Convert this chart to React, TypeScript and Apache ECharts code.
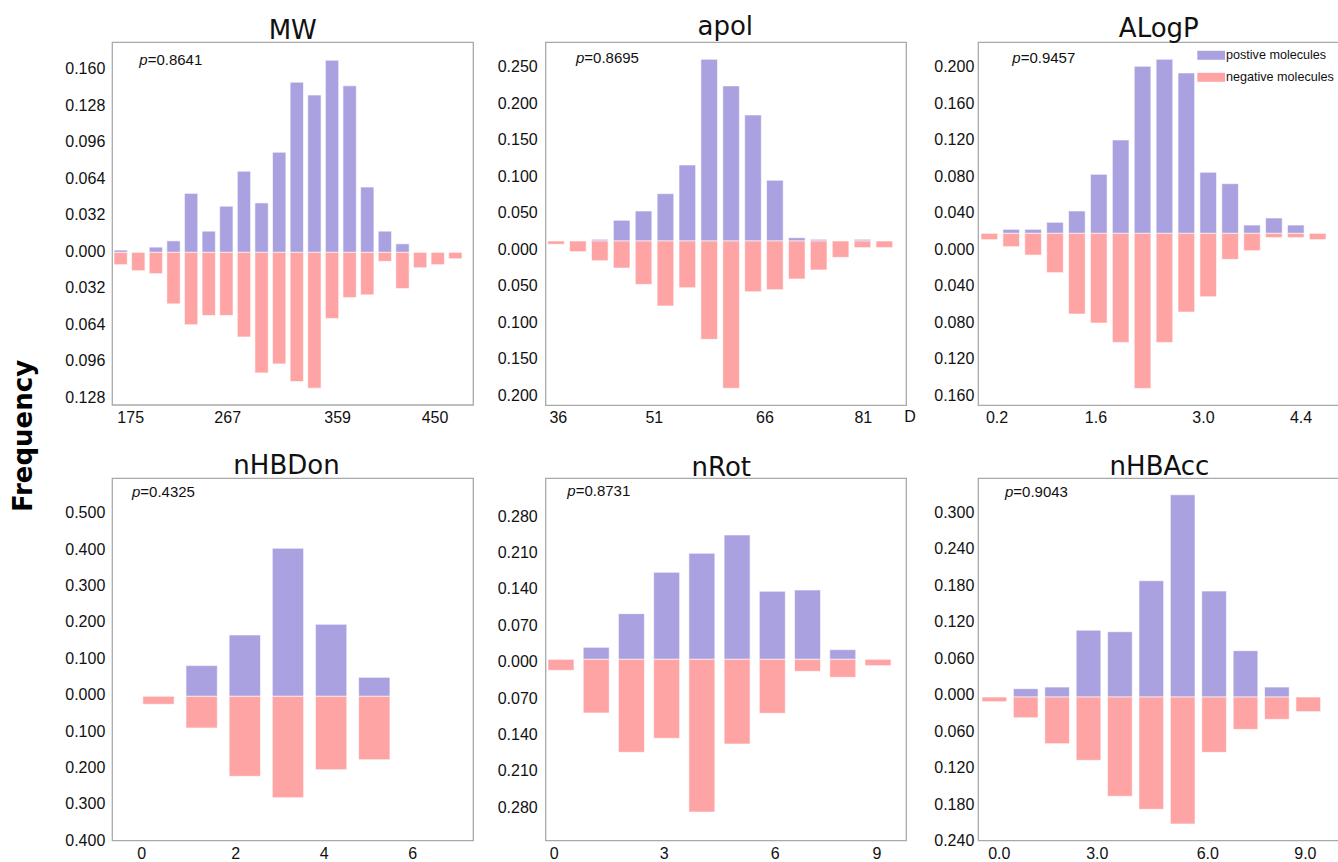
import React, { useEffect, useRef } from "react";
import * as echarts from "echarts";

// ---------------- data ----------------
const TITLES = ["MW", "apol", "ALogP", "nHBDon", "nRot", "nHBAcc"];
const P_VALUES = ["0.8641", "0.8695", "0.9457", "0.4325", "0.8731", "0.9043"];
const SERIES_NAMES = ["postive molecules", "negative molecules"];

const MW_POS = [0.002, 0, 0.0046, 0.0101, 0.0518, 0.0186, 0.0405, 0.0713, 0.0434, 0.0879, 0.1494, 0.1381, 0.1687, 0.1462, 0.0573, 0.0186, 0.0075, 0, 0, 0];
const MW_NEG = [0.0108, 0.0161, 0.0187, 0.0452, 0.0635, 0.0554, 0.0554, 0.0743, 0.1058, 0.0979, 0.1134, 0.1192, 0.058, 0.0397, 0.0373, 0.0079, 0.0318, 0.0135, 0.0108, 0.0056];
const APOL_POS = [0, 0, 0.0023, 0.0284, 0.0411, 0.0648, 0.1041, 0.2489, 0.2124, 0.1726, 0.0832, 0.0045, 0.0023, 0, 0.0023, 0];
const APOL_NEG = [0.0045, 0.0146, 0.027, 0.037, 0.0594, 0.089, 0.064, 0.1347, 0.2018, 0.0694, 0.0667, 0.052, 0.0397, 0.0224, 0.0091, 0.0091];
const ALOGP_POS = [0, 0.0044, 0.0044, 0.0121, 0.0245, 0.0647, 0.1023, 0.183, 0.1907, 0.1757, 0.0669, 0.0544, 0.0091, 0.0168, 0.0091, 0];
const ALOGP_NEG = [0.0069, 0.0146, 0.0238, 0.0431, 0.0884, 0.0983, 0.1195, 0.1699, 0.1195, 0.0862, 0.0694, 0.0285, 0.019, 0.0047, 0.0047, 0.0069];
const NHBDON_POS = [0, 0.0843, 0.1685, 0.4066, 0.1978, 0.0522];
const NHBDON_NEG = [0.022, 0.087, 0.2198, 0.2784, 0.2015, 0.174];
const NROT_POS = [0, 0.0231, 0.0878, 0.1673, 0.2038, 0.2391, 0.1308, 0.1333, 0.0186, 0];
const NROT_NEG = [0.0212, 0.1032, 0.1788, 0.1519, 0.2936, 0.1628, 0.1038, 0.0231, 0.0346, 0.0122];
const NHBACC_POS = [0, 0.0137, 0.0164, 0.11, 0.1074, 0.1913, 0.3326, 0.1743, 0.0762, 0.0164, 0];
const NHBACC_NEG = [0.0077, 0.034, 0.0767, 0.1041, 0.1633, 0.1847, 0.2088, 0.091, 0.0532, 0.0367, 0.0241];

const MW_XLABELS = ["175", "267", "359", "450"];
const APOL_XLABELS = ["36", "51", "66", "81"];
const ALOGP_XLABELS = ["0.2", "1.6", "3.0", "4.4"];
const NHBDON_XLABELS = ["0", "2", "4", "6"];
const NROT_XLABELS = ["0", "3", "6", "9"];
const NHBACC_XLABELS = ["0.0", "3.0", "6.0", "9.0"];

const MW_YTICKS = [0.16, 0.128, 0.096, 0.064, 0.032, 0, -0.032, -0.064, -0.096, -0.128];
const APOL_YTICKS = [0.25, 0.2, 0.15, 0.1, 0.05, 0, -0.05, -0.1, -0.15, -0.2];
const ALOGP_YTICKS = [0.2, 0.16, 0.12, 0.08, 0.04, 0, -0.04, -0.08, -0.12, -0.16];
const NHBDON_YTICKS = [0.5, 0.4, 0.3, 0.2, 0.1, 0, -0.1, -0.2, -0.3, -0.4];
const NROT_YTICKS = [0.28, 0.21, 0.14, 0.07, 0, -0.07, -0.14, -0.21, -0.28];
const NHBACC_YTICKS = [0.3, 0.24, 0.18, 0.12, 0.06, 0, -0.06, -0.12, -0.18, -0.24];

const POS = [MW_POS, APOL_POS, ALOGP_POS, NHBDON_POS, NROT_POS, NHBACC_POS];
const NEG = [MW_NEG, APOL_NEG, ALOGP_NEG, NHBDON_NEG, NROT_NEG, NHBACC_NEG];
const XLABELS = [MW_XLABELS, APOL_XLABELS, ALOGP_XLABELS, NHBDON_XLABELS, NROT_XLABELS, NHBACC_XLABELS];
const YTICKS = [MW_YTICKS, APOL_YTICKS, ALOGP_YTICKS, NHBDON_YTICKS, NROT_YTICKS, NHBACC_YTICKS];

// ---------------- layout / style ----------------
const LAYOUT = [
  { left: 112.3, top: 42.3, width: 361, height: 362.7, xMin: -0.475, xMax: 20.02, yMin: -0.135, yMax: 0.1834, base: -0.001, barW: 0.757, xLabelPos: [0.569, 6.077, 12.32, 17.846], yMargin: 7, xMargin: 4, titleX: 292.7, titleY: 30.3, pX: 139.3, pY: 59.3 },
  { left: 545.7, top: 42.3, width: 360.6, height: 363, xMin: -0.4706, xMax: 16.003, yMin: -0.2136, yMax: 0.2835, base: 0.0114, barW: 0.761, xLabelPos: [0.105, 4.491, 9.548, 14.04], yMargin: 8, xMargin: 4, titleX: 725.3, titleY: 26.3, pX: 576, pY: 57.7 },
  { left: 978.3, top: 42.3, width: 361.7, height: 363, xMin: -0.504, xMax: 16.02, yMin: -0.1709, yMax: 0.2268, base: 0.0175, barW: 0.761, xLabelPos: [0.351, 4.873, 9.783, 14.24], yMargin: 4, xMargin: 4, titleX: 1158.8, titleY: 27.7, pX: 1012.3, pY: 57.3 },
  { left: 112.3, top: 478.3, width: 361, height: 362.4, xMin: -1.07, xMax: 7.294, yMin: -0.401, yMax: 0.5944, base: -0.0044, barW: 0.726, xLabelPos: [-0.389, 1.789, 3.842, 5.89], yMargin: 7, xMargin: 5, titleX: 286.5, titleY: 464.5, pX: 132, pY: 491 },
  { left: 545.7, top: 478.3, width: 360.6, height: 362.4, xMin: -0.434, xMax: 9.804, yMin: -0.3442, yMax: 0.3525, base: 0.0045, barW: 0.738, xLabelPos: [-0.19, 2.933, 6.085, 8.973], yMargin: 8, xMargin: 5, titleX: 721.3, titleY: 466.5, pX: 567.3, pY: 490.7 },
  { left: 978.3, top: 478.3, width: 361.7, height: 362.4, xMin: -0.51, xMax: 11.01, yMin: -0.2401, yMax: 0.3559, base: -0.0038, barW: 0.786, xLabelPos: [0.159, 3.281, 6.798, 9.907], yMargin: 4, xMargin: 5, titleX: 1159.5, titleY: 466, pX: 1005, pY: 491.7 },
];

const LEGEND_LAYOUT = { rectX: 1197.3, rectW: 27.7, rectH: 9, textX: 1226, rowY: [55.3, 77.3], fontSize: 12.6 };

const POSITIVE_COLOR = "#aaa2e0";
const NEGATIVE_COLOR = "#ffa4a4";
const TEXT_COLOR = "#111";
const FONT = "'Liberation Sans', Arial, sans-serif";
const TITLE_FONT = "'DejaVu Sans', sans-serif";

function buildOption() {
  const grid: any[] = [];
  const xAxis: any[] = [];
  const yAxis: any[] = [];
  const series: any[] = [];
  const graphic: any[] = [];

  LAYOUT.forEach((l, i) => {
    grid.push({
      left: l.left, top: l.top, width: l.width, height: l.height,
      show: true, borderColor: "#a9a9a9", borderWidth: 1.3,
      backgroundColor: "transparent", containLabel: false, outerBoundsMode: "none",
    });
    const labels = XLABELS[i];
    const positions = l.xLabelPos;
    xAxis.push({
      type: "value", gridIndex: i, min: l.xMin, max: l.xMax,
      axisLine: { show: false }, axisTick: { show: false }, splitLine: { show: false },
      axisLabel: {
        customValues: positions,
        formatter: (v: number) => {
          let best = 0;
          positions.forEach((p, j) => { if (Math.abs(p - v) < Math.abs(positions[best] - v)) best = j; });
          return labels[best];
        },
        fontSize: 16, fontFamily: FONT, color: TEXT_COLOR, margin: l.xMargin, hideOverlap: false,
      },
    });
    yAxis.push({
      type: "value", gridIndex: i, min: l.yMin, max: l.yMax,
      axisLine: { show: false }, axisTick: { show: false }, splitLine: { show: false },
      axisLabel: {
        customValues: YTICKS[i],
        formatter: (v: number) => Math.abs(v).toFixed(3),
        fontSize: 16, fontFamily: FONT, color: TEXT_COLOR, margin: l.yMargin, hideOverlap: false,
      },
    });
    const makeSeries = (name: string, values: number[], sign: number, color: string) => ({
      type: "custom", name, xAxisIndex: i, yAxisIndex: i,
      itemStyle: { color },
      data: values.map((v, k) => [k, v]),
      renderItem: (params: any, api: any) => {
        const x = api.value(0);
        const v = api.value(1);
        if (!v) return null;
        const a = api.coord([x - l.barW / 2, l.base]);
        const b = api.coord([x + l.barW / 2, l.base + sign * v]);
        return {
          type: "rect",
          shape: {
            x: Math.min(a[0], b[0]), y: Math.min(a[1], b[1]),
            width: Math.abs(b[0] - a[0]), height: Math.abs(b[1] - a[1]),
          },
          style: { fill: color, stroke: "rgba(255,255,255,0.75)", lineWidth: 0.8 },
        };
      },
    });
    series.push(makeSeries(SERIES_NAMES[0], POS[i], 1, POSITIVE_COLOR));
    series.push(makeSeries(SERIES_NAMES[1], NEG[i], -1, NEGATIVE_COLOR));

    graphic.push({
      type: "text", x: l.titleX, y: l.titleY, silent: true,
      style: {
        text: TITLES[i], fontSize: 26, fontFamily: TITLE_FONT, fill: TEXT_COLOR,
        align: "center", verticalAlign: "middle", textAlign: "center", textVerticalAlign: "middle",
      },
    });
    graphic.push({
      type: "text", x: l.pX, y: l.pY, silent: true,
      style: {
        text: "{i|p}=" + P_VALUES[i], fontSize: 15, fontFamily: FONT, fill: TEXT_COLOR,
        rich: { i: { fontStyle: "italic", fontSize: 15, fontFamily: FONT, fill: TEXT_COLOR } },
        align: "left", verticalAlign: "middle", textAlign: "left", textVerticalAlign: "middle",
      },
    });
  });

  // legend (drawn in the top-right panel)
  const legendColors = [POSITIVE_COLOR, NEGATIVE_COLOR];
  SERIES_NAMES.forEach((name, k) => {
    const cy = LEGEND_LAYOUT.rowY[k];
    graphic.push({
      type: "rect", silent: true,
      shape: { x: LEGEND_LAYOUT.rectX, y: cy - LEGEND_LAYOUT.rectH / 2, width: LEGEND_LAYOUT.rectW, height: LEGEND_LAYOUT.rectH },
      style: { fill: legendColors[k] },
    });
    graphic.push({
      type: "text", x: LEGEND_LAYOUT.textX, y: cy, silent: true,
      style: {
        text: name, fontSize: LEGEND_LAYOUT.fontSize, fontFamily: FONT, fill: TEXT_COLOR,
        align: "left", verticalAlign: "middle", textAlign: "left", textVerticalAlign: "middle",
      },
    });
  });

  graphic.push({
    type: "text", x: 910, y: 416.7, silent: true,
    style: { text: "D", fontSize: 16, fontFamily: FONT, fill: TEXT_COLOR, align: "center", verticalAlign: "middle", textAlign: "center", textVerticalAlign: "middle" },
  });
  graphic.push({
    type: "text", x: 23, y: 436, rotation: Math.PI / 2, silent: true,
    style: { text: "Frequency", fontSize: 26, fontWeight: "bold", fontFamily: TITLE_FONT, fill: "#000", align: "center", verticalAlign: "middle", textAlign: "center", textVerticalAlign: "middle" },
  });

  return {
    animation: false,
    backgroundColor: "#fff",
    grid, xAxis, yAxis, series, graphic,
  };
}

export default function App() {
  const ref = useRef<HTMLDivElement>(null);
  useEffect(() => {
    if (!ref.current) return;
    const chart = echarts.init(ref.current, undefined, { renderer: "svg" });
    chart.setOption(buildOption() as any);
    return () => chart.dispose();
  }, []);
  return (
    <div
      ref={ref}
      style={{ position: "fixed", left: 0, top: 0, width: 1338, height: 862, background: "#fff" }}
    />
  );
}
